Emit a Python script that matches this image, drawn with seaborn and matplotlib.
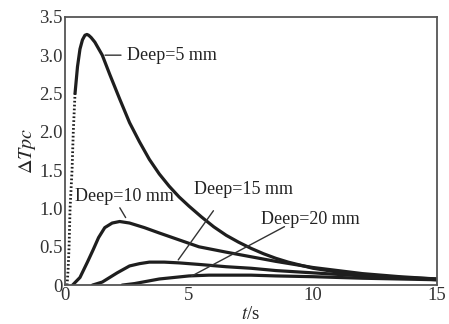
import numpy as np
import pandas as pd
import seaborn as sns
import matplotlib
matplotlib.use('Agg')
import matplotlib.pyplot as plt

# values
t_rise = [0.08, 0.12, 0.16, 0.2, 0.28, 0.33, 0.4]
d5_rise = [0.0, 0.2, 0.5, 1.0, 1.5, 2.0, 2.5]

t5 = [0.4, 0.5, 0.6, 0.7, 0.8, 0.88, 0.95, 1.05, 1.2, 1.5, 1.8, 2.2, 2.6, 3.0, 3.4, 3.8, 4.2, 4.6,
      5.0, 5.5, 6.0, 6.5, 7.0, 7.5, 8.0, 8.5, 9.0, 10.0, 11.0, 12.0, 13.0, 14.0, 15.0]
d5 = [2.5, 2.85, 3.08, 3.2, 3.26, 3.27, 3.26, 3.23, 3.17, 3.0, 2.75, 2.43, 2.12, 1.87, 1.64, 1.45, 1.29, 1.15,
      1.03, 0.89, 0.76, 0.65, 0.56, 0.48, 0.41, 0.35, 0.3, 0.22, 0.17, 0.13, 0.11, 0.09, 0.07]

t10 = [0.3, 0.6, 0.9, 1.13, 1.35, 1.6, 1.9, 2.2, 2.6, 3.2, 3.8, 4.6, 5.4, 6.5, 7.5, 8.5, 10.0, 11.0, 12.0, 13.5, 15.0]
d10 = [0.0, 0.1, 0.3, 0.46, 0.62, 0.75, 0.81, 0.83, 0.81, 0.75, 0.68, 0.59, 0.5, 0.43, 0.37, 0.31, 0.23, 0.19, 0.15, 0.11, 0.08]

t15 = [1.1, 1.5, 1.8, 2.1, 2.6, 3.0, 3.4, 4.0, 4.6, 5.4, 6.5, 7.5, 8.5, 10.0, 12.0, 13.5, 15.0]
d15 = [0.0, 0.04, 0.1, 0.16, 0.25, 0.28, 0.3, 0.3, 0.29, 0.27, 0.24, 0.22, 0.19, 0.16, 0.12, 0.1, 0.08]

t20 = [2.3, 2.8, 3.3, 3.8, 4.4, 5.0, 5.8, 6.5, 7.5, 8.5, 10.0, 12.0, 13.5, 15.0]
d20 = [0.0, 0.02, 0.05, 0.08, 0.1, 0.12, 0.13, 0.13, 0.13, 0.12, 0.11, 0.09, 0.08, 0.07]

yticks = [0, 0.5, 1.0, 1.5, 2.0, 2.5, 3.0, 3.5]
ytick_labels = ['0', '0.5', '1.0', '1.5', '2.0', '2.5', '3.0', '3.5']
xticks = [0, 5, 10, 15]

sns.set_style('white')
plt.rcParams['font.family'] = ['Liberation Serif', 'DejaVu Serif']
plt.rcParams['mathtext.fontset'] = 'stix'

fig = plt.figure(figsize=(4.49, 3.24), dpi=100)
ax = fig.add_axes([0.145, 0.12, 0.828, 0.828])

lc = '#1e1e1e'
sns.lineplot(x=t_rise, y=d5_rise, ax=ax, color=lc, lw=2.0, linestyle=(0, (0.6, 0.8)), sort=False)
for tt, dd in [(t5, d5), (t10, d10), (t15, d15), (t20, d20)]:
    sns.lineplot(x=tt, y=dd, ax=ax, color=lc, lw=2.3, sort=False)

ax.set_xlim(0, 15)
ax.set_ylim(0, 3.5)
ax.set_xticks(xticks)
ax.set_yticks(yticks)
ax.set_yticklabels(ytick_labels)
ax.tick_params(direction='in', length=4, width=1, labelsize=13.5, colors='#333333', pad=1.5)
for s in ax.spines.values():
    s.set_color('#555555')
    s.set_linewidth(1.3)

ax.set_xlabel(r'$t$/s', fontsize=13.5, labelpad=1)
ax.set_ylabel(r'$\Delta Tpc$', fontsize=14.5, labelpad=1)

fs = 13
line = dict(arrowstyle='-', color='#333333', lw=1)
ax.annotate('Deep=5 mm', xy=(1.5, 3.0), xytext=(2.5, 3.0), fontsize=fs, va='center', ha='left',
            arrowprops=line, color='#222222')
ax.text(2.4, 1.16, 'Deep=10 mm', fontsize=fs, ha='center', va='center', color='#222222')
ax.annotate('', xy=(2.5, 0.85), xytext=(2.15, 1.04), arrowprops=line)
ax.text(7.2, 1.25, 'Deep=15 mm', fontsize=fs, ha='center', va='center', color='#222222')
ax.annotate('', xy=(4.5, 0.3), xytext=(6.05, 1.0), arrowprops=line)
ax.text(9.9, 0.86, 'Deep=20 mm', fontsize=fs, ha='center', va='center', color='#222222')
ax.annotate('', xy=(5.0, 0.1), xytext=(8.95, 0.78), arrowprops=line)

fig.savefig('out.png', dpi=100)
